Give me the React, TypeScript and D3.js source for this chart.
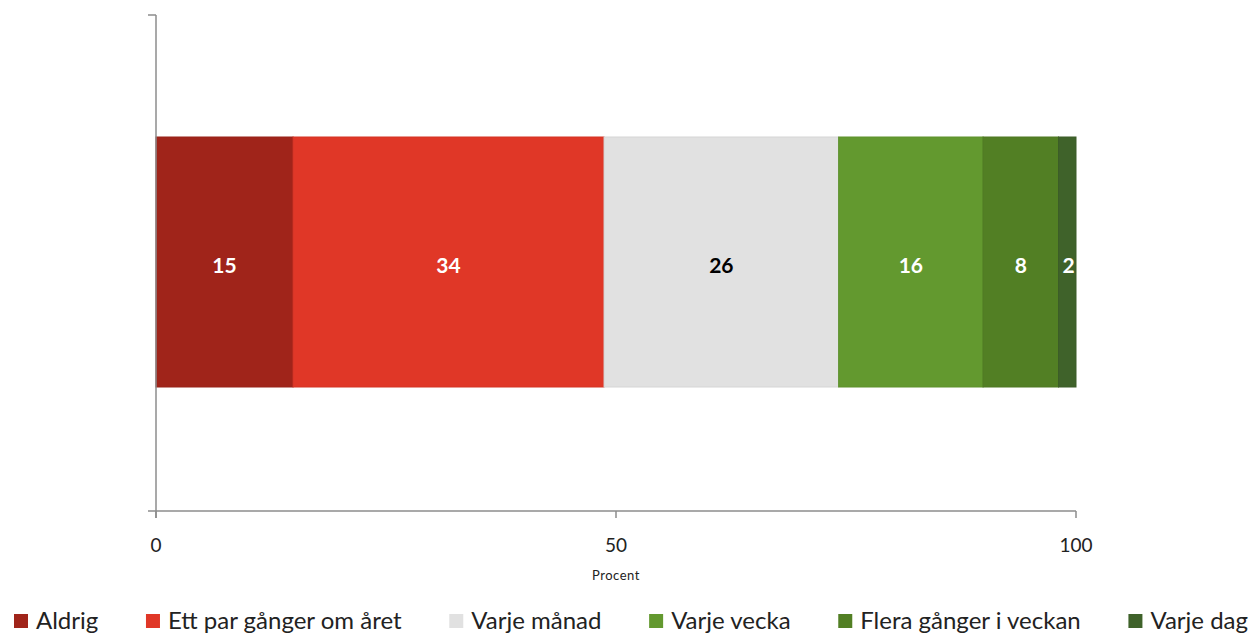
import React, { useEffect, useRef } from "react";
import * as d3 from "d3";

const categories = ["Aldrig", "Ett par gånger om året", "Varje månad", "Varje vecka", "Flera gånger i veckan", "Varje dag"];
const values = [14.9, 33.8, 25.5, 15.7, 8.2, 1.9];
const colors = ["#A0241A", "#E03727", "#E1E1E1", "#63992F", "#527F24", "#3F622A"];
const labelColors = ["#ffffff", "#ffffff", "#000000", "#ffffff", "#ffffff", "#ffffff"];
const tickValues = [0, 50, 100];
const axisTitle = "Procent";

const W = 1254;
const H = 635;
const FONT = "Lato, 'Open Sans', sans-serif";

export default function App() {
  const ref = useRef<SVGSVGElement | null>(null);

  useEffect(() => {
    const svg = d3.select(ref.current);
    svg.selectAll("*").remove();

    const x = d3.scaleLinear().domain([0, 100]).range([156, 1076]);
    const yTop = 15;
    const yBottom = 511;
    const barTop = 137;
    const barBottom = 387;

    const stacked: { v: number; x0: number; x1: number; i: number }[] = [];
    let acc = 0;
    values.forEach((v, i) => {
      stacked.push({ v, x0: acc, x1: acc + v, i });
      acc += v;
    });

    const g = svg.append("g");
    g.selectAll("rect.seg")
      .data(stacked)
      .enter()
      .append("rect")
      .attr("class", "seg")
      .attr("x", (d) => x(d.x0))
      .attr("y", barTop)
      .attr("width", (d) => x(d.x1) - x(d.x0))
      .attr("height", barBottom - barTop)
      .attr("fill", (d) => colors[d.i])
      .attr("stroke", (d) => d3.color(colors[d.i])!.darker(0.15).toString())
      .attr("stroke-width", 1);

    g.selectAll("text.lbl")
      .data(stacked)
      .enter()
      .append("text")
      .attr("class", "lbl")
      .attr("x", (d) => (d.i === stacked.length - 1 ? x(d.x0) + 10 : (x(d.x0) + x(d.x1)) / 2))
      .attr("y", (barTop + barBottom) / 2 + 4)
      .attr("dy", "0.35em")
      .attr("text-anchor", "middle")
      .attr("font-family", FONT)
      .attr("font-weight", "bold")
      .attr("font-size", 21)
      .attr("fill", (d) => labelColors[d.i])
      .text((d) => Math.round(d.v));

    const axisColor = "#8c8c8c";
    svg.append("line").attr("x1", x(0)).attr("x2", x(0)).attr("y1", yTop).attr("y2", yBottom + 7).attr("stroke", axisColor).attr("stroke-width", 1.5);
    svg.append("line").attr("x1", x(0) - 8).attr("x2", x(0)).attr("y1", yTop).attr("y2", yTop).attr("stroke", axisColor).attr("stroke-width", 1.5);
    svg.append("line").attr("x1", x(0) - 8).attr("x2", x(100)).attr("y1", yBottom).attr("y2", yBottom).attr("stroke", axisColor).attr("stroke-width", 1.5);

    svg.selectAll("line.tick")
      .data(tickValues)
      .enter()
      .append("line")
      .attr("class", "tick")
      .attr("x1", (d) => x(d))
      .attr("x2", (d) => x(d))
      .attr("y1", yBottom)
      .attr("y2", yBottom + 7)
      .attr("stroke", axisColor)
      .attr("stroke-width", 1.5);

    svg.selectAll("text.tl")
      .data(tickValues)
      .enter()
      .append("text")
      .attr("class", "tl")
      .attr("x", (d) => x(d))
      .attr("y", 552)
      .attr("text-anchor", "middle")
      .attr("font-family", FONT)
      .attr("font-size", 19)
      .attr("fill", "#222")
      .text((d) => d);

    svg.append("text")
      .attr("x", (x(0) + x(100)) / 2)
      .attr("y", 580)
      .attr("text-anchor", "middle")
      .attr("font-family", FONT)
      .attr("font-size", 13)
      .attr("letter-spacing", 0.5)
      .attr("fill", "#222")
      .text(axisTitle);

    const lg = svg.append("g");
    const legendY = 621;
    const sq = 14;
    const items = lg.selectAll("g.item").data(categories).enter().append("g").attr("class", "item");
    items.append("rect").attr("width", sq).attr("height", sq).attr("y", legendY - sq / 2).attr("fill", (_d, i) => colors[i]);
    const texts = items
      .append("text")
      .attr("x", sq + 8)
      .attr("y", legendY)
      .attr("dy", "0.35em")
      .attr("font-family", FONT)
      .attr("font-size", 24)
      .attr("fill", "#222")
      .text((d) => d);
    const widths: number[] = [];
    texts.each(function () {
      widths.push((this as SVGTextElement).getComputedTextLength());
    });
    const startX = 14;
    const endX = 1248;
    const itemW = widths.map((w) => sq + 8 + w);
    const total = d3.sum(itemW);
    const gap = (endX - startX - total) / (categories.length - 1);
    let cx = startX;
    items.attr("transform", (_d, i) => {
      const t = `translate(${cx},0)`;
      cx += itemW[i] + gap;
      return t;
    });
  }, []);

  return (
    <svg ref={ref} width={W} height={H} style={{ position: "absolute", left: 0, top: 0, background: "#fff" }} />
  );
}
